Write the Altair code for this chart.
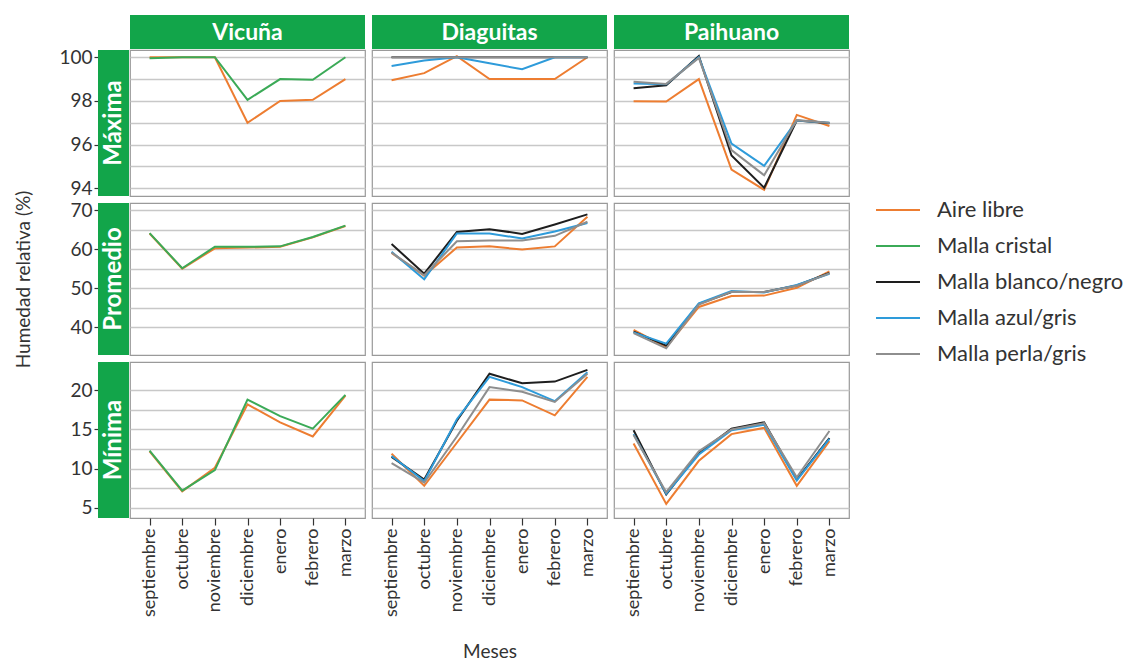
import altair as alt
import pandas as pd

months = ["septiembre", "octubre", "noviembre", "diciembre", "enero", "febrero", "marzo"]
sites = ["Vicuña", "Diaguitas", "Paihuano"]
stats = ["Máxima", "Promedio", "Mínima"]
series = ["Aire libre", "Malla cristal", "Malla blanco/negro", "Malla azul/gris", "Malla perla/gris"]
colors = ["#ED7D31", "#3BAA57", "#1E1E1E", "#2E9BDA", "#8E8E8E"]

# ---- Máxima ----
max_vic_aire = [100.0, 100.0, 100.0, 97.0, 98.0, 98.05, 99.0]
max_vic_cristal = [99.95, 100.0, 100.0, 98.05, 99.0, 98.97, 100.0]
max_dia_aire = [98.95, 99.27, 100.05, 99.0, 99.0, 99.0, 100.0]
max_dia_bn = [100.0, 100.0, 100.0, 100.0, 100.0, 100.0, 100.0]
max_dia_azul = [99.6, 99.85, 100.0, 99.72, 99.45, 100.0, 100.0]
max_dia_perla = [100.0, 100.0, 100.0, 100.0, 100.0, 100.0, 100.0]
max_pai_aire = [97.98, 97.97, 99.0, 94.86, 93.93, 97.36, 96.85]
max_pai_bn = [98.58, 98.72, 100.05, 95.5, 94.03, 97.1, 96.98]
max_pai_azul = [98.8, 98.76, 100.0, 96.05, 95.03, 97.1, 97.0]
max_pai_perla = [98.88, 98.78, 99.97, 95.75, 94.6, 97.12, 97.0]

# ---- Promedio ----
prom_vic_aire = [64.0, 55.0, 60.2, 60.4, 60.6, 63.0, 65.9]
prom_vic_cristal = [64.1, 55.1, 60.6, 60.6, 60.7, 63.1, 66.0]
prom_dia_aire = [59.0, 53.2, 60.4, 60.7, 59.9, 60.7, 68.3]
prom_dia_bn = [61.3, 53.7, 64.4, 65.1, 63.9, 66.3, 68.9]
prom_dia_azul = [59.3, 52.3, 64.0, 64.0, 62.7, 64.5, 66.7]
prom_dia_perla = [59.1, 53.3, 62.0, 62.2, 62.2, 63.4, 67.0]
prom_pai_aire = [39.3, 34.9, 45.2, 48.0, 48.1, 50.1, 54.3]
prom_pai_bn = [38.9, 35.3, 46.0, 49.0, 49.0, 50.7, 53.9]
prom_pai_azul = [38.7, 35.8, 46.1, 49.3, 48.9, 50.8, 53.7]
prom_pai_perla = [38.5, 34.6, 45.8, 49.1, 49.0, 50.6, 53.8]

# ---- Mínima ----
min_vic_aire = [12.2, 7.1, 10.1, 18.2, 15.9, 14.1, 19.3]
min_vic_cristal = [12.3, 7.2, 9.8, 18.8, 16.7, 15.1, 19.4]
min_dia_aire = [11.9, 7.8, 13.3, 18.8, 18.7, 16.8, 21.7]
min_dia_bn = [11.5, 8.6, 16.1, 22.1, 20.9, 21.1, 22.6]
min_dia_azul = [11.6, 8.4, 16.3, 21.7, 20.4, 18.6, 22.3]
min_dia_perla = [10.7, 8.2, 14.1, 20.4, 19.8, 18.5, 22.1]
min_pai_aire = [13.2, 5.5, 11.0, 14.4, 15.2, 7.8, 13.5]
min_pai_bn = [14.9, 6.7, 12.0, 15.1, 15.9, 8.6, 13.9]
min_pai_azul = [14.4, 6.8, 11.8, 14.9, 15.6, 8.5, 13.8]
min_pai_perla = [14.3, 7.0, 12.2, 15.0, 15.8, 8.9, 14.8]

data = {
    ("Máxima", "Vicuña"): {"Aire libre": max_vic_aire, "Malla cristal": max_vic_cristal},
    ("Máxima", "Diaguitas"): {"Aire libre": max_dia_aire, "Malla blanco/negro": max_dia_bn,
                              "Malla azul/gris": max_dia_azul, "Malla perla/gris": max_dia_perla},
    ("Máxima", "Paihuano"): {"Aire libre": max_pai_aire, "Malla blanco/negro": max_pai_bn,
                             "Malla azul/gris": max_pai_azul, "Malla perla/gris": max_pai_perla},
    ("Promedio", "Vicuña"): {"Aire libre": prom_vic_aire, "Malla cristal": prom_vic_cristal},
    ("Promedio", "Diaguitas"): {"Aire libre": prom_dia_aire, "Malla blanco/negro": prom_dia_bn,
                                "Malla azul/gris": prom_dia_azul, "Malla perla/gris": prom_dia_perla},
    ("Promedio", "Paihuano"): {"Aire libre": prom_pai_aire, "Malla blanco/negro": prom_pai_bn,
                               "Malla azul/gris": prom_pai_azul, "Malla perla/gris": prom_pai_perla},
    ("Mínima", "Vicuña"): {"Aire libre": min_vic_aire, "Malla cristal": min_vic_cristal},
    ("Mínima", "Diaguitas"): {"Aire libre": min_dia_aire, "Malla blanco/negro": min_dia_bn,
                              "Malla azul/gris": min_dia_azul, "Malla perla/gris": min_dia_perla},
    ("Mínima", "Paihuano"): {"Aire libre": min_pai_aire, "Malla blanco/negro": min_pai_bn,
                             "Malla azul/gris": min_pai_azul, "Malla perla/gris": min_pai_perla},
}

row_domains = {"Máxima": [93.65, 100.33], "Promedio": [32.9, 71.8], "Mínima": [3.7, 23.6]}
row_grid = {"Máxima": [94, 95, 96, 97, 98, 99, 100],
            "Promedio": [40, 45, 50, 55, 60, 65, 70],
            "Mínima": [5, 7.5, 10, 12.5, 15, 17.5, 20]}
row_step = {"Máxima": 2, "Promedio": 10, "Mínima": 5}
row_h = {"Máxima": 146, "Promedio": 152, "Mínima": 156}

GREEN = "#12A54A"
FONT = "Lato"
W = 235


def panel(stat_i, site_i):
    stat, site = stats[stat_i], sites[site_i]
    h = row_h[stat]
    rows = []
    for s in series:
        vals = data[(stat, site)].get(s)
        if vals is None:
            continue
        for m, v in zip(months, vals):
            rows.append({"month": m, "series": s, "value": v})
    df = pd.DataFrame(rows)

    step = row_step[stat]
    if site_i == 0:
        yaxis = alt.Axis(
            values=row_grid[stat], grid=True, domain=False, offset=31,
            tickSize=5, tickColor="#333333", tickWidth=1.2,
            tickOpacity={"condition": {"test": f"datum.value % {step} == 0", "value": 1}, "value": 0},
            labelExpr=f"datum.value % {step} == 0 ? datum.label : ''",
            labelFontSize=19, labelFont=FONT, labelColor="#333333", labelPadding=2,
            title="Humedad relativa (%)" if stat_i == 1 else None,
            titleFontSize=19, titleFont=FONT, titleFontWeight="normal", titleColor="#333333",
            titleX=-66, titleY=h / 2,
        )
    else:
        yaxis = alt.Axis(values=row_grid[stat], grid=True, domain=False, ticks=False,
                         labels=False, title=None)

    if stat_i == 2:
        xaxis = alt.Axis(
            labelAngle=270, labelAlign="right", labelBaseline="middle",
            labelFontSize=18, labelFont=FONT, labelColor="#333333", labelPadding=3,
            tickSize=7, tickColor="#333333", tickWidth=1.2, domain=False, grid=False,
            title="Meses" if site_i == 1 else None,
            titleFontSize=19, titleFont=FONT, titleFontWeight="normal", titleColor="#333333",
            titlePadding=26,
        )
    else:
        xaxis = alt.Axis(labels=False, ticks=False, domain=False, grid=False, title=None)

    lines = alt.Chart(df).mark_line(strokeWidth=2).encode(
        x=alt.X("month:N", sort=months, scale=alt.Scale(type="point", padding=0.6), axis=xaxis),
        y=alt.Y("value:Q", scale=alt.Scale(domain=row_domains[stat], nice=False, zero=False), axis=yaxis),
        color=alt.Color("series:N", scale=alt.Scale(domain=series, range=colors),
                        legend=alt.Legend(title=None)),
        order=alt.Order("month_idx:Q"),
    ).transform_calculate(
        month_idx=f"indexof({months!r}, datum.month)"
    )

    layers = [lines]
    if site_i == 0:
        lab = pd.DataFrame({"t": [stat]})
        layers.append(alt.Chart(lab).mark_rect(color=GREEN).encode(
            x=alt.value(-32), x2=alt.value(-1), y=alt.value(0), y2=alt.value(h)))
        layers.append(alt.Chart(lab).mark_text(
            angle=270, color="white", fontSize=24, fontWeight="bold", font=FONT,
            align="center", baseline="middle").encode(
            x=alt.value(-16), y=alt.value(h / 2), text="t:N"))
    if stat_i == 0:
        lab = pd.DataFrame({"t": [site]})
        layers.append(alt.Chart(lab).mark_rect(color=GREEN).encode(
            x=alt.value(0), x2=alt.value(W), y=alt.value(-35), y2=alt.value(-1)))
        layers.append(alt.Chart(lab).mark_text(
            color="white", fontSize=23, fontWeight="bold", font=FONT,
            align="center", baseline="middle").encode(
            x=alt.value(W / 2), y=alt.value(-17), text="t:N"))
    return alt.layer(*layers).properties(width=W, height=h)


panels = [panel(r, c) for r in range(3) for c in range(3)]

chart = alt.concat(*panels, columns=3, spacing=7, bounds="flush").resolve_scale(
    color="shared"
).configure_view(
    stroke="#9A9A9A", strokeWidth=1.2
).configure_axis(
    gridColor="#C8C8C8", gridWidth=1.6
).configure_legend(
    orient="none", legendX=745, legendY=137,
    symbolType="stroke", symbolSize=1936, symbolStrokeWidth=2,
    labelFontSize=22, labelFont=FONT, labelColor="#333333", labelLimit=400,
    rowPadding=2, labelOffset=16,
).properties(padding={"top": 6, "left": 5, "right": 5, "bottom": 0})

chart.save("out.html", embed_options={"renderer": "svg", "actions": False})
